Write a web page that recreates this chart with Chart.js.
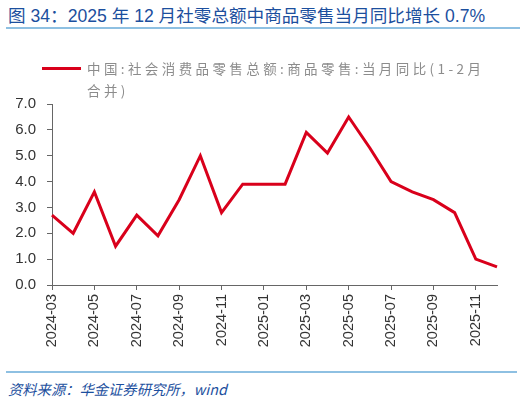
<!DOCTYPE html>
<html>
<head>
<meta charset="utf-8">
<script src="https://cdn.jsdelivr.net/npm/chart.js@4"></script>
<style>
  body { margin: 0; width: 527px; height: 401px; background: #fff; position: relative; overflow: hidden; font-family: "Liberation Sans", "Noto Sans CJK SC", sans-serif; }
  #title { position: absolute; left: 8px; top: 2px; font-size: 17.6px; color: #1c4f9e; white-space: nowrap; font-family: "Liberation Sans", "Noto Sans CJK SC", sans-serif; }
  #titleLine { position: absolute; left: 6px; top: 27px; width: 514px; height: 2px; background: #8ec0e2; }
  #legend { position: absolute; left: 42px; top: 57px; width: 470px; z-index: 2; }
  #legend .swatch { position: absolute; left: 0; top: 10px; width: 39px; height: 3px; background: #d9001b; }
  #legend .text { position: absolute; left: 45px; top: 0; width: 440px; font-size: 13.5px; line-height: 22px; letter-spacing: 3.4px; color: #8c8c8c; white-space: nowrap; font-family: "Noto Sans CJK SC", sans-serif; }
  #chartBox { position: absolute; left: 0; top: 84px; width: 527px; height: 276px; }
  #srcLine { position: absolute; left: 6px; top: 371px; width: 511px; height: 2px; background: #8ec0e2; }
  #source { position: absolute; left: 8px; top: 378px; font-size: 14.3px; color: #1c4f9e; font-style: italic; white-space: nowrap; font-family: "Noto Sans CJK SC", sans-serif; }
</style>
</head>
<body>
<div id="title">图 34：2025 年 12 月社零总额中商品零售当月同比增长 0.7%</div>
<div id="titleLine"></div>
<div id="chartBox"><canvas id="retailChart"></canvas></div>
<div id="legend"><div class="swatch"></div><div class="text">中国:社会消费品零售总额:商品零售:当月同比(1-2月<br>合并)</div></div>
<div id="srcLine"></div>
<div id="source">资料来源：华金证券研究所，wind</div>

<script>
// 商品零售当月同比 (%)
const months = ["2024-03", "2024-04", "2024-05", "2024-06", "2024-07", "2024-08", "2024-09", "2024-10", "2024-11", "2024-12",
  "2025-01", "2025-02", "2025-03", "2025-04", "2025-05", "2025-06", "2025-07", "2025-08", "2025-09", "2025-10", "2025-11", "2025-12"];
const goodsRetail = [2.7, 2.0, 3.6, 1.5, 2.7, 1.9, 3.3, 5.0, 2.8, 3.9,
  3.9, 3.9, 5.9, 5.1, 6.5, 5.3, 4.0, 3.6, 3.3, 2.8, 1.0, 0.7];
const seriesName = "中国:社会消费品零售总额:商品零售:当月同比(1-2月合并)";

let retailCanvas = document.getElementById("retailChart");

let myRetailChart = new Chart(retailCanvas, {
  type: 'line',
  data: {
    labels: months,
    datasets: [{
      label: seriesName,
      data: goodsRetail,
      borderColor: "#d9001b",
      borderWidth: 3,
      pointRadius: 0,
      tension: 0,
      fill: false
    }]
  },
  options: {
    responsive: true,
    maintainAspectRatio: false,
    animation: false,
    layout: { padding: { top: 6, right: 30, left: 0, bottom: 0 } },
    plugins: {
      legend: { display: false },
      tooltip: { enabled: false }
    },
    scales: {
      x: {
        grid: { drawOnChartArea: false, tickLength: 5, color: '#666' },
        border: { color: '#666', width: 1 },
        ticks: {
          autoSkip: false,
          maxRotation: 90,
          minRotation: 90,
          color: '#333',
          padding: 4,
          font: { family: "Liberation Sans", size: 14.5 },
          callback: function (val, index) {
            return index % 2 === 0 ? this.getLabelForValue(val) : null;
          }
        },
        afterFit: function (scale) { scale.height = 75; }
      },
      y: {
        min: 0,
        max: 7,
        grid: { drawOnChartArea: false, tickLength: 5, color: '#666' },
        border: { color: '#666', width: 1 },
        ticks: {
          stepSize: 1,
          color: '#333',
          padding: 11,
          font: { family: "Liberation Sans", size: 15 },
          callback: v => v.toFixed(1)
        },
        afterFit: function (scale) { scale.width = 52; }
      }
    }
  }
});
</script>
</body>
</html>
